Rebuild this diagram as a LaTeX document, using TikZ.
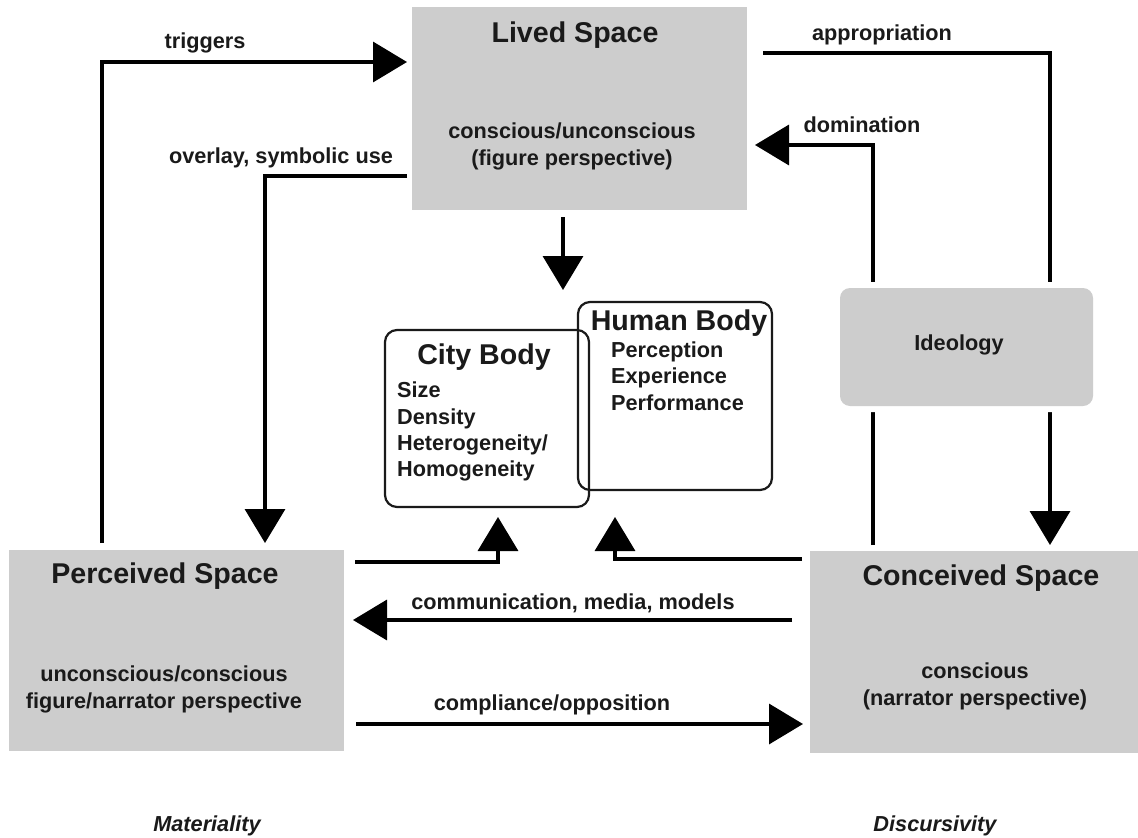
\documentclass[tikz,border=0pt]{standalone}
\usepackage{fontspec}
\setmainfont{Liberation Sans}
\usetikzlibrary{arrows.meta}
\definecolor{boxgray}{HTML}{CDCDCD}
\definecolor{ink}{HTML}{1A1A1A}
\begin{document}
\begin{tikzpicture}[x=1pt,y=-1pt,
  conn/.style={line width=3.5pt, draw=black, line join=miter},
  arr/.style={-{Triangle[length=34pt,width=40pt]}},
  ttl/.style={font=\fontsize{28.6}{34}\selectfont\bfseries, text=ink, inner sep=0pt, anchor=base},
  bodytxt/.style={font=\fontsize{21.7}{26.5}\selectfont\bfseries, text=ink, inner sep=0pt, align=center},
  listtxt/.style={font=\fontsize{21.7}{26.3}\selectfont\bfseries, text=ink, inner sep=0pt, align=left, anchor=north west},
  lbl/.style={font=\fontsize{21.7}{26}\selectfont\bfseries, text=ink, inner sep=0pt, anchor=base},
  spacebox/.style={fill=boxgray, inner sep=0pt, outer sep=0pt},
  bodybox/.style={draw=ink, line width=2.2pt, rounded corners=12pt, inner sep=0pt, outer sep=0pt},
  ideobox/.style={fill=boxgray, rounded corners=10pt, inner sep=0pt, outer sep=0pt,
    preaction={draw=white, line width=12pt}}
]
\useasboundingbox[fill=white] (0,0) rectangle (1138,838);

% main space boxes
\node[spacebox, minimum width=335pt, minimum height=203pt] (lived) at (579.5,108.5) {};
\node[spacebox, minimum width=335pt, minimum height=201pt] (perc) at (176.5,650.5) {};
\node[spacebox, minimum width=328pt, minimum height=202pt] (conc) at (974,652) {};

% body boxes
\node[bodybox, minimum width=204pt, minimum height=177pt] (city) at (487,418.5) {};
\node[bodybox, minimum width=194pt, minimum height=188pt] (human) at (675,396) {};

% connectors
\coordinate (tc) at (102,62);
\draw[conn,arr,shorten <=7pt,shorten >=5pt] (perc.north -| tc) -- (tc) -- (tc -| lived.west);

\coordinate (oc) at (265,176);
\draw[conn,arr,shorten <=5pt,shorten >=7pt] (oc -| lived.west) -- (oc) -- (oc |- perc.north);

\coordinate (ac) at (1050,53);
\draw[conn,arr,shorten <=16pt,shorten >=6pt] (ac -| lived.east) -- (ac) -- (ac |- conc.north);

\coordinate (dc) at (873,145);
\draw[conn,arr,shorten <=6pt,shorten >=8pt] (dc |- conc.north) -- (dc) -- (dc -| lived.east);

\coordinate (bodyin) at (563,290);
\draw[conn,arr,shorten <=7pt] (bodyin |- lived.south) -- (bodyin);

\coordinate (pcc) at (498,562);
\draw[conn,arr,shorten <=11pt,shorten >=10pt] (pcc -| perc.east) -- (pcc) -- (pcc |- city.south);

\coordinate (chc) at (615,559);
\draw[conn,arr,shorten <=8pt,shorten >=27pt] (chc -| conc.west) -- (chc) -- (chc |- human.south);

\coordinate (cm) at (0,620);
\draw[conn,arr,shorten <=18pt,shorten >=9pt] (cm -| conc.west) -- (cm -| perc.east);

\coordinate (cp) at (0,724);
\draw[conn,arr,shorten <=12pt,shorten >=7pt] (cp -| perc.east) -- (cp -| conc.west);

% ideology box (on top of the two vertical lines)
\node[ideobox, minimum width=253pt, minimum height=118pt] (ideo) at (966.5,347) {};

% texts
\node[ttl] (livedT) at (575,42) {Lived Space};
\node[bodytxt] (livedB) at (572,146.5) {conscious/unconscious\\(figure perspective)};
\node[ttl] (percT) at (165,583) {Perceived Space};
\node[bodytxt] (percB) at (164,689.5) {unconscious/conscious\\figure/narrator perspective};
\node[ttl] (concT) at (981,585) {Conceived Space};
\node[bodytxt] (concB) at (975,686.5) {conscious\\(narrator perspective)};
\node[lbl] (ideoT) at (959,350) {Ideology};

\node[ttl] (cityT) at (484,364) {City Body};
\node[listtxt] (cityL) at (397,382) {Size\\Density\\Heterogeneity/\\Homogeneity};
\node[ttl] (humanT) at (679,330) {Human Body};
\node[listtxt] (humanL) at (611,341.5) {Perception\\Experience\\Performance};

\node[lbl] (trigL) at (205,48.5) {triggers};
\node[lbl] (overL) at (281,163.5) {overlay, symbolic use};
\node[lbl] (apprL) at (882,40.5) {appropriation};
\node[lbl] (domL) at (862,132.5) {domination};
\node[lbl] (commL) at (573,609.5) {communication, media, models};
\node[lbl] (compL) at (552,710.5) {compliance/opposition};
\node[lbl, font=\fontsize{21.7}{26}\selectfont\bfseries\itshape] (matL) at (207,831) {Materiality};
\node[lbl, font=\fontsize{21.7}{26}\selectfont\bfseries\itshape] (disL) at (935,831) {Discursivity};
\end{tikzpicture}
\end{document}
